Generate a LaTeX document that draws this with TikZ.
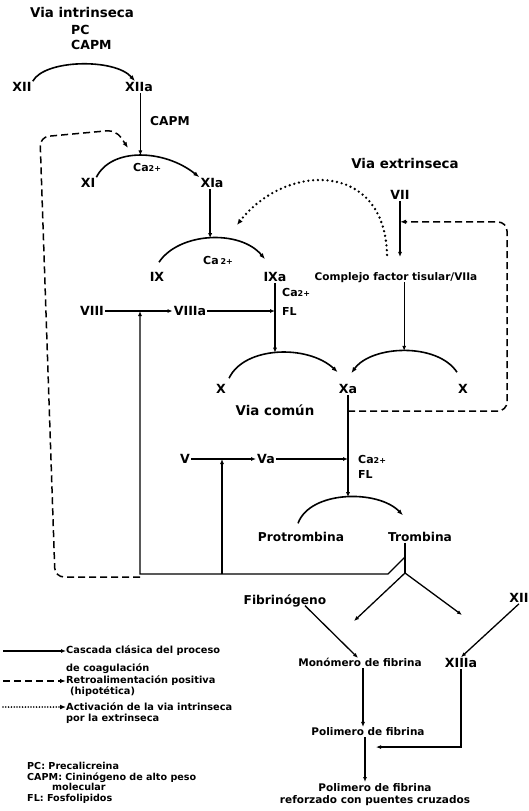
\documentclass[tikz,border=0pt]{standalone}
\usepackage{fontspec}
\setmainfont{DejaVu Sans}
\usetikzlibrary{arrows.meta}
\tikzset{
  ttl/.style={font=\fontsize{13.4}{15}\selectfont\bfseries,inner sep=1pt,text height=9.8pt,text depth=0pt},
  fac/.style={font=\fontsize{12.6}{14}\selectfont\bfseries,inner sep=1pt,text height=9.2pt,text depth=0pt},
  med/.style={font=\fontsize{12.2}{14}\selectfont\bfseries,inner sep=1pt,text height=8.9pt,text depth=0pt},
  sm/.style={font=\fontsize{10.5}{12}\selectfont\bfseries,inner sep=1pt,text height=7.7pt,text depth=0pt},
  sml/.style={font=\fontsize{10.5}{12}\selectfont\bfseries,inner sep=1pt,align=center},
  cof/.style={font=\fontsize{11}{13}\selectfont\bfseries,inner sep=1pt,align=left,anchor=north west},
  leg/.style={font=\fontsize{9.8}{10.7}\selectfont\bfseries,inner sep=0pt,align=left,anchor=north west},
  arr/.style={line width=1.3pt,-{Latex[length=5pt,width=4pt]}},
  bow/.style={line width=1.6pt,-{Latex[length=6pt,width=4.5pt]}},
  fb/.style={line width=1.5pt,dash pattern=on 7pt off 4pt,rounded corners=9pt,-{Latex[length=6pt,width=4.5pt]}},
  act/.style={line width=2.6pt,line cap=round,dash pattern=on 0pt off 4.8pt,-{Latex[length=6pt,width=5pt]}},
}
\newcommand{\caion}[1][]{Ca#1{\fontsize{8}{8}\selectfont 2+}}

\begin{document}
\begin{tikzpicture}[x=1pt,y=-1pt]
\useasboundingbox (0,0) rectangle (529,811);
\node[ttl] (intr) at (82,13) {Via intrinseca};
\node[cof,font=\fontsize{12.5}{15}\selectfont\bfseries] (pc) at (70,24.5) {PC\\CAPM};
\node[fac] (xii) at (22,87) {XII};
\node[fac] (xiia) at (139,87) {XIIa};
\draw[bow] (xii.north east) .. controls +(12,-22) and +(-20,-23) .. ([xshift=-4pt]xiia.north);
\node[med,anchor=west] (capm) at (149,121) {CAPM};
\node[fac] (xi) at (88,183) {XI};
\node[fac] (xia) at (212,183) {XIa};
\draw[bow] (xi.north east) .. controls +(15,-30) and +(-35,-28) .. (xia.north west) coordinate[pos=.5] (xiTop);
\node[cof] (ca1) at (132,162) {\caion};
\draw[arr] (xiTop |- xiia.south) -- (xiTop);
\node[fac] (ix) at (157,277) {IX};
\node[fac] (ixa) at (275,277) {IXa};
\draw[bow] ([shift={(2pt,9pt)}]ix.north) .. controls +(20,-30) and +(-25,-30) .. ([shift={(-10pt,12pt)}]ixa.north) coordinate[pos=.5] (ixTop);
\node[cof] (ca2) at (202,255) {\caion[\,]};
\draw[arr] (ixTop |- xia.south) -- (ixTop);
\node[ttl] (extr) at (405,164) {Via extrinseca};
\node[fac] (vii) at (400,195) {VII};
\node[sm] (cplx) at (396,277) {Complejo factor tisular/VIIa};
\draw[arr] (vii.south) -- ([yshift=15pt]vii.south |- cplx.north);
\coordinate (dotEnd) at (237,225);
\draw[act] ([shift={(-9pt,17pt)}]cplx.north) .. controls (385,160) and (285,163) .. (dotEnd);
\node[cof] (cafl1) at (281,287) {\caion\\[6pt]FL};
\node[fac] (viii) at (92,311) {VIII};
\node[fac] (viiia) at (190,311) {VIIIa};
\draw[arr] (viii) -- (viiia);
\draw[arr] (viiia) -- (viiia -| ixa);
\node[fac] (x1) at (221,389) {X};
\node[fac] (xa) at (348,389) {Xa};
\node[fac] (x2) at (463,389) {X};
\draw[bow] ([shift={(2pt,5pt)}]x1.north east) .. controls +(15,-32) and +(-30,-28) .. ([yshift=11pt]xa.north west) coordinate[pos=.5] (xaTopL);
\draw[bow] ([shift={(-6pt,11pt)}]x2.north) .. controls +(-20,-30) and +(20,-28) .. ([shift={(-7pt,10pt)}]xa.north east) coordinate[pos=.5] (xaTopR);
\draw[arr] (ixa.south) -- (ixa.south |- xaTopL);
\draw[arr] (xaTopR |- cplx.south) -- (xaTopR);
\node[ttl] (comun) at (275,411) {Via común};
\draw[fb] (xa.south |- comun) -- (507,411) -- (507,222) -- ([yshift=-21pt]vii.south);
\node[fac] (v) at (185,459) {V};
\node[fac] (va) at (266,459) {Va};
\draw[arr] (v) -- (va);
\draw[arr] (va) -- (va -| xa);
\node[cof] (cafl2) at (357,454) {\caion\\[2pt]FL};
\node[med] (pro) at (301,537) {Protrombina};
\node[med] (tro) at (420,537) {Trombina};
\draw[bow] ([shift={(-3pt,8pt)}]pro.north) .. controls +(12,-33) and +(-25,-26) .. ([shift={(-17pt,16pt)}]tro.north) coordinate[pos=.5] (troTop);
\draw[arr] (xa.south) -- (xa.south |- troTop);
\coordinate (br) at (405,573);
\coordinate (fbase) at (140,574);
\coordinate (vbase) at (222,574);
\draw[line width=1.3pt] ([xshift=-15pt]tro.south) -- (br) coordinate[pos=.47] (stem);
\draw[arr] (stem) -- (388,574) -- (fbase) -- (fbase |- viii);
\draw[arr] (vbase) -- (vbase |- v);
\draw[fb] ([yshift=-3pt]fbase) -- (55,577) -- (40,137) -- (116,130) -- (128,148);
\coordinate (toFib) at (354,621);
\coordinate (toXiii) at (462,615);
\draw[arr] (br) -- (toFib);
\draw[arr] (br) -- (toXiii);
\node[med] (fib) at (285,600) {Fibrinógeno};
\node[fac] (xiib) at (519,598) {XII};
\node[sm] (mono) at (360,663) {Monómero de fibrina};
\node[fac] (xiiia) at (461,663) {XIIIa};
\draw[arr] ([xshift=20pt]fib.south) -- ([xshift=-2pt]mono.north);
\draw[arr] (xiib.south) -- (xiiia.north);
\node[sm] (poli) at (368,732) {Polimero de fibrina};
\draw[arr] ([xshift=3pt]mono.south) -- ([xshift=3pt]mono.south |- poli.north);
\node[sml,anchor=north] (refz) at (375,782) {Polimero de fibrina\\reforzado con puentes cruzados};
\draw[arr] ([xshift=-3pt]poli.south) -- ([xshift=-3pt]poli.south |- refz.north);
\draw[arr] (xiiia.south) |- ([shift={(8pt,-10pt)}]poli.south);
\node[leg] (lg1) at (66,645.5) {Cascada clásica del proceso\\[7.3pt]de coagulación};
\node[leg] (lg2) at (66,675.5) {Retroalimentación positiva\\\hspace{4pt}(hipotética)};
\node[leg] (lg3) at (66,702.5) {Activación de la via intrinseca\\por la extrinseca};
\draw[arr] ([shift={(-63pt,-5.5pt)}]lg1.north west) -- ([yshift=-5.5pt]lg1.north west);
\draw[fb] ([shift={(-63pt,-5.5pt)}]lg2.north west) -- ([yshift=-5.5pt]lg2.north west);
\draw[act,line width=1.8pt,dash pattern=on 0pt off 2.8pt] ([shift={(-63pt,-4.5pt)}]lg3.north west) -- ([yshift=-4.5pt]lg3.north west);
\node[leg,font=\fontsize{9.6}{10.7}\selectfont\bfseries] (abbr) at (27,762) {PC: Precalicreina\\CAPM: Cininógeno de alto peso\\\hspace{25pt}molecular\\FL: Fosfolipidos};
\end{tikzpicture}
\end{document}
